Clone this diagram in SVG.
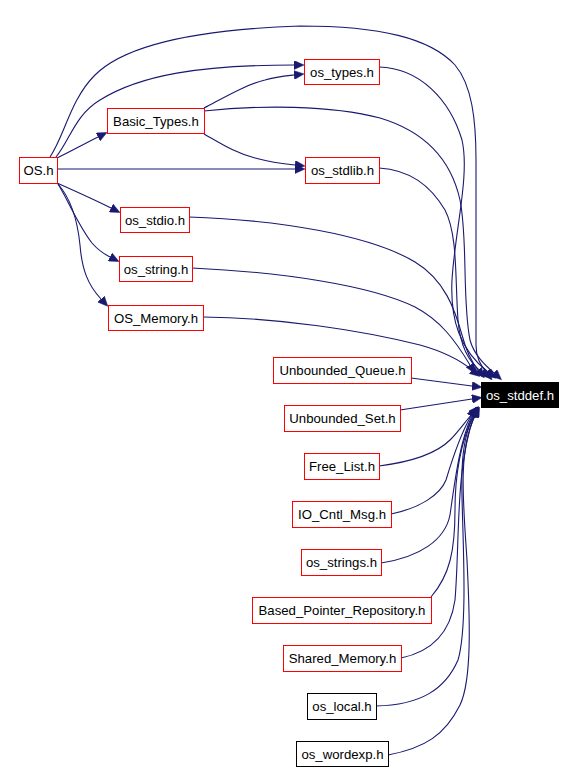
<svg xmlns="http://www.w3.org/2000/svg" width="576" height="772" viewBox="0 0 576 772">
<style>
.n rect{fill:#fff;stroke:#ff0000;stroke-width:1}
.n.b rect{stroke:#000}
.n.root rect{fill:#000;stroke:#000}
.n text{font-family:"Liberation Sans",Arial,sans-serif;font-size:13.2px;fill:#000;text-anchor:middle}
.n.root text{fill:#fff}
#edges path{fill:none;stroke:#191970;stroke-width:1.1;marker-end:url(#ah)}
</style>
<defs>
<marker id="ah" viewBox="0 0 10 9" refX="0" refY="4.5" markerWidth="10" markerHeight="9" markerUnits="userSpaceOnUse" orient="auto">
<path d="M0,0 L10,4.5 L0,9 z" fill="#191970" stroke="#191970" stroke-width="0.5"/>
</marker>
</defs>
<rect width="576" height="772" fill="#fff"/>
<g id="edges">
<path d="M50,157 C65,135 70,100 95,75 C120,50 180,30 300,26 C380,26 430,38 455,65 C472,85 476,120 476,160 L476,345 C476,357 480,364 486,372"/>
<path d="M56,157 C70,140 75,115 100,100 C140,75 200,65 294,65"/>
<path d="M57,158 C70,152 80,146 98,137"/>
<path d="M57,169 L295,169"/>
<path d="M57,183 C75,191 95,200 111,208"/>
<path d="M58,184 C68,200 78,225 92,243 C98,250 104,254 110,257"/>
<path d="M58,184 C72,200 78,225 80,245 C82,270 88,285 101,299"/>
<path d="M204,108 C225,97 245,85 265,80 C275,77 285,76 294,75"/>
<path d="M204,111 C260,105 330,105 380,118 C420,130 450,155 460,200 C468,240 462,300 470,340 C474,355 485,365 494,373"/>
<path d="M204,134 C220,143 235,153 255,158 C270,162 285,164 295,165"/>
<path d="M379,67 C420,68 450,100 462,140 C470,175 455,230 452,280 C450,320 460,350 488,372"/>
<path d="M379,168 C410,170 430,185 445,210 C458,235 455,280 458,320 C460,345 468,362 482,372"/>
<path d="M189,217 C280,220 370,235 415,262 C445,280 455,310 462,335 C466,350 470,360 478,370"/>
<path d="M192,268 C280,272 370,285 415,307 C440,320 455,340 470,365"/>
<path d="M203,317 C280,318 360,330 420,345 C445,352 460,360 472,370"/>
<path d="M411,378 L472,386"/>
<path d="M400,410 L472,399"/>
<path d="M379,466 C410,462 435,455 450,440 C458,432 465,422 472,414"/>
<path d="M391,514 C420,508 440,495 446,480 C452,460 460,435 471,416"/>
<path d="M381,563 C420,557 445,540 450,515 C455,480 460,440 472,416"/>
<path d="M431,597 C450,575 455,550 455,510 C455,470 462,440 473,416"/>
<path d="M401,658 C430,652 450,635 455,600 C460,540 455,470 474,416"/>
<path d="M376,706 C420,705 445,690 458,660 C470,620 460,500 462,470 C463,445 467,428 474,416"/>
<path d="M388,755 C425,748 445,735 460,705 C472,680 470,620 467,560 C463,500 458,450 475,416"/>
</g>
<g id="n_os" class="n"><rect x="19.5" y="157.5" width="38" height="26"/><text x="38.5" y="175">OS.h</text></g>
<g id="n_basic_types" class="n"><rect x="107.5" y="108.5" width="97" height="25"/><text x="156" y="125.5">Basic_Types.h</text></g>
<g id="n_os_types" class="n"><rect x="304.5" y="59.5" width="75" height="25"/><text x="342" y="76.5">os_types.h</text></g>
<g id="n_os_stdlib" class="n"><rect x="305.5" y="157.5" width="74" height="26"/><text x="342.5" y="175">os_stdlib.h</text></g>
<g id="n_os_stdio" class="n"><rect x="120.5" y="207.5" width="69" height="25"/><text x="155" y="224.5">os_stdio.h</text></g>
<g id="n_os_string" class="n"><rect x="119.5" y="256.5" width="73" height="25"/><text x="156" y="273.5">os_string.h</text></g>
<g id="n_os_memory" class="n"><rect x="108.5" y="305.5" width="95" height="25"/><text x="156" y="322.5">OS_Memory.h</text></g>
<g id="n_os_stddef" class="n root"><rect x="481.5" y="382.5" width="77" height="25"/><text x="520" y="399.5">os_stddef.h</text></g>
<g id="n_unbounded_queue" class="n"><rect x="273.5" y="357.5" width="138" height="26"/><text x="342.5" y="375">Unbounded_Queue.h</text></g>
<g id="n_unbounded_set" class="n"><rect x="284.5" y="405.5" width="116" height="26"/><text x="342.5" y="423">Unbounded_Set.h</text></g>
<g id="n_free_list" class="n"><rect x="304.5" y="453.5" width="75" height="26"/><text x="342" y="471">Free_List.h</text></g>
<g id="n_io_cntl_msg" class="n"><rect x="292.5" y="501.5" width="99" height="26"/><text x="342" y="519">IO_Cntl_Msg.h</text></g>
<g id="n_os_strings" class="n"><rect x="301.5" y="549.5" width="80" height="26"/><text x="341.5" y="567">os_strings.h</text></g>
<g id="n_based_pointer_repository" class="n"><rect x="252.5" y="597.5" width="179" height="26"/><text x="342" y="615">Based_Pointer_Repository.h</text></g>
<g id="n_shared_memory" class="n"><rect x="283.5" y="645.5" width="118" height="26"/><text x="342.5" y="663">Shared_Memory.h</text></g>
<g id="n_os_local" class="n b"><rect x="307.5" y="693.5" width="69" height="26"/><text x="342" y="711">os_local.h</text></g>
<g id="n_os_wordexp" class="n b"><rect x="296.5" y="741.5" width="92" height="25"/><text x="342.5" y="758.5">os_wordexp.h</text></g>
</svg>
